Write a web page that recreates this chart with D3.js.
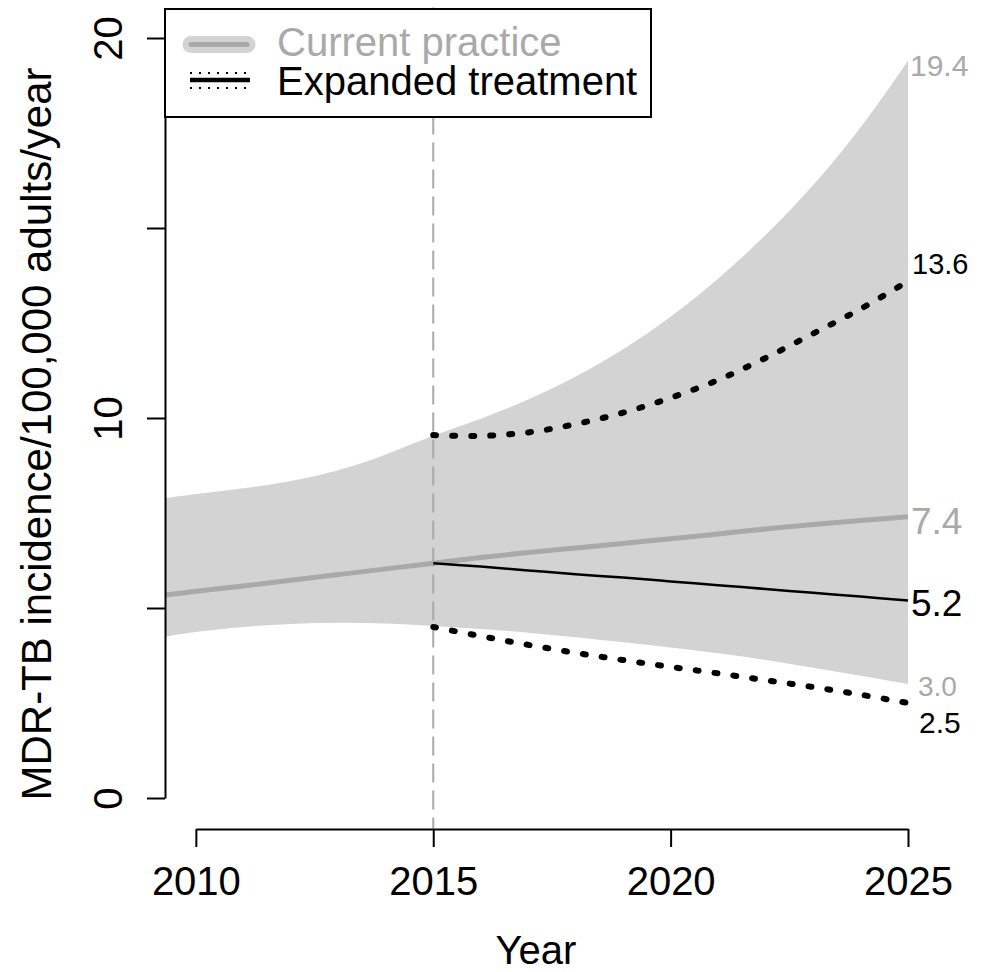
<!DOCTYPE html>
<html>
<head>
<meta charset="utf-8">
<script src="https://cdn.jsdelivr.net/npm/d3@7"></script>
<style>
  body { margin: 0; background: #fff; }
  text { font-family: "Liberation Sans", Arial, sans-serif; }
</style>
</head>
<body>
<div class="container"></div>
<script>
  // years (first point is the start of the projection window)
  var years = [2009.35, 2010, 2011, 2012, 2013, 2014, 2015, 2016, 2017, 2018, 2019, 2020, 2021, 2022, 2023, 2024, 2025];
  // current practice: central estimate and uncertainty band
  var currentMid = [5.34, 5.44, 5.58, 5.73, 5.88, 6.03, 6.18, 6.33, 6.46, 6.58, 6.7, 6.82, 6.95, 7.08, 7.2, 7.3, 7.4];
  var bandUpper = [7.89, 8.0, 8.14, 8.33, 8.6, 9.02, 9.55, 9.97, 10.47, 11.07, 11.79, 12.64, 13.64, 14.79, 16.09, 17.59, 19.4];
  var bandLower = [4.24, 4.38, 4.51, 4.59, 4.62, 4.6, 4.53, 4.45, 4.35, 4.23, 4.1, 3.96, 3.81, 3.64, 3.43, 3.22, 3.0];
  // expanded treatment, from 2015 on
  var expYears = [2015, 2016, 2017, 2018, 2019, 2020, 2021, 2022, 2023, 2024, 2025];
  var expMid = [6.18, 6.09, 5.99, 5.89, 5.8, 5.7, 5.6, 5.5, 5.4, 5.3, 5.2];
  var expUpper = [9.55, 9.53, 9.62, 9.84, 10.14, 10.53, 11.0, 11.58, 12.22, 12.87, 13.6];
  var expLower = [4.5, 4.26, 4.03, 3.82, 3.63, 3.45, 3.28, 3.1, 2.92, 2.72, 2.5];
  var xTicks = [2010, 2015, 2020, 2025];
  var yTicks = [0, 5, 10, 15, 20];
  var yTickLabels = ['0', '', '10', '', '20'];
  var legendLabels = ['Current practice', 'Expanded treatment'];

  var grey = '#a9a9a9', light = '#d3d3d3';

  var svg = d3.select('.container').append('svg')
              .attr('width', 987)
              .attr('height', 972);

  var x = d3.scaleLinear().domain([2009.35, 2025]).range([165, 908]);
  var y = d3.scaleLinear().domain([0, 20]).range([798, 38]);

  var zip = function(xs, ys){
    return xs.map(function(d, i){ return [d, ys[i]]; });
  };

  // band
  var area = d3.area()
               .x(function(d){ return x(d[0]); })
               .y0(function(d){ return y(d[1]); })
               .y1(function(d){ return y(d[2]); })
               .curve(d3.curveBasis);
  svg.append('path')
     .datum(years.map(function(d, i){ return [d, bandLower[i], bandUpper[i]]; }))
     .attr('d', area)
     .attr('fill', light);

  // 2015 marker
  svg.append('line')
     .attr('x1', x(2015)).attr('x2', x(2015))
     .attr('y1', 7.6).attr('y2', 828.4)
     .attr('stroke', grey).attr('stroke-width', 2)
     .attr('stroke-dasharray', '19,8');

  var line = d3.line()
               .x(function(d){ return x(d[0]); })
               .y(function(d){ return y(d[1]); })
               .curve(d3.curveCatmullRom);

  svg.append('path').datum(zip(years, currentMid))
     .attr('d', line).attr('fill', 'none')
     .attr('stroke', grey).attr('stroke-width', 5);

  svg.append('path').datum(zip(expYears, expMid))
     .attr('d', line).attr('fill', 'none')
     .attr('stroke', '#000').attr('stroke-width', 2.5);

  [expUpper, expLower].forEach(function(vals){
    svg.append('path').datum(zip(expYears, vals))
       .attr('d', line).attr('fill', 'none')
       .attr('stroke', '#000').attr('stroke-width', 6)
       .attr('stroke-linecap', 'round')
       .attr('stroke-dasharray', '3,16');
  });

  // end labels
  var endLabels = [
    {v: bandUpper[bandUpper.length - 1], color: grey, size: 30, dx: 910, dy: 4},
    {v: expUpper[expUpper.length - 1], color: '#000', size: 29, dx: 912, dy: -18},
    {v: currentMid[currentMid.length - 1], color: grey, size: 37, dx: 911, dy: 4},
    {v: expMid[expMid.length - 1], color: '#000', size: 37, dx: 911, dy: 2},
    {v: bandLower[bandLower.length - 1], color: grey, size: 28, dx: 918, dy: 2},
    {v: expLower[expLower.length - 1], color: '#000', size: 30, dx: 919, dy: 19}
  ];
  svg.selectAll('.endlab').data(endLabels).enter().append('text')
     .attr('class', 'endlab')
     .attr('x', function(d){ return d.dx; })
     .attr('y', function(d){ return y(d.v) + d.dy; })
     .attr('dy', '0.36em')
     .attr('fill', function(d){ return d.color; })
     .style('font-size', function(d){ return d.size + 'px'; })
     .text(function(d){ return d3.format('.1f')(d.v); });

  // axes
  var yAxis = svg.append('g')
                 .attr('transform', 'translate(165,0)')
                 .call(d3.axisLeft(y).tickValues(yTicks).tickSize(18).tickSizeOuter(0)
                         .tickFormat(function(d, i){ return yTickLabels[i]; }));
  yAxis.select('.domain').attr('stroke-width', 2);
  yAxis.selectAll('.tick line').attr('stroke-width', 2);
  yAxis.selectAll('.tick text')
       .attr('transform', 'rotate(-90)')
       .attr('x', 0).attr('y', -43).attr('dy', 0)
       .attr('text-anchor', 'middle')
       .style('font-size', '40px')
       .style('font-family', '"Liberation Sans", Arial, sans-serif');

  var xAxisScale = x.copy().domain([2010, 2025]).range([x(2010), x(2025)]);
  var xAxis = svg.append('g')
                 .attr('transform', 'translate(0,829)')
                 .call(d3.axisBottom(xAxisScale).tickValues(xTicks).tickSize(18).tickSizeOuter(0)
                         .tickFormat(d3.format('d')));
  xAxis.select('.domain').attr('stroke-width', 2);
  xAxis.selectAll('.tick line').attr('stroke-width', 2);
  xAxis.selectAll('.tick text')
       .attr('y', 66).attr('dy', 0)
       .style('font-size', '40px')
       .style('font-family', '"Liberation Sans", Arial, sans-serif');

  svg.append('text')
     .attr('x', 536).attr('y', 964)
     .attr('text-anchor', 'middle')
     .style('font-size', '40px')
     .text('Year');

  svg.append('text')
     .attr('transform', 'translate(51,434) rotate(-90)')
     .attr('text-anchor', 'middle')
     .style('font-size', '42px')
     .text('MDR-TB incidence/100,000 adults/year');

  // legend
  var legend = svg.append('g');
  legend.append('rect')
        .attr('x', 165).attr('y', 9).attr('width', 486).attr('height', 108)
        .attr('fill', '#fff').attr('stroke', '#000').attr('stroke-width', 2);
  legend.append('line')
        .attr('x1', 191).attr('x2', 247).attr('y1', 44.5).attr('y2', 44.5)
        .attr('stroke', light).attr('stroke-width', 17).attr('stroke-linecap', 'round');
  legend.append('line')
        .attr('x1', 191).attr('x2', 247).attr('y1', 44.5).attr('y2', 44.5)
        .attr('stroke', grey).attr('stroke-width', 5).attr('stroke-linecap', 'round');
  legend.append('line')
        .attr('x1', 190).attr('x2', 250).attr('y1', 80).attr('y2', 80)
        .attr('stroke', '#000').attr('stroke-width', 4.5);
  [73, 88].forEach(function(ly){
    legend.append('line')
          .attr('x1', 190).attr('x2', 250).attr('y1', ly).attr('y2', ly)
          .attr('stroke', '#000').attr('stroke-width', 2)
          .attr('stroke-dasharray', '2,7');
  });
  legend.selectAll('.legtxt').data(legendLabels).enter().append('text')
        .attr('class', 'legtxt')
        .attr('x', 277)
        .attr('y', function(d, i){ return 56 + i * 39; })
        .attr('fill', function(d, i){ return i === 0 ? grey : '#000'; })
        .style('font-size', '40px')
        .text(function(d){ return d; });
</script>
</body>
</html>
